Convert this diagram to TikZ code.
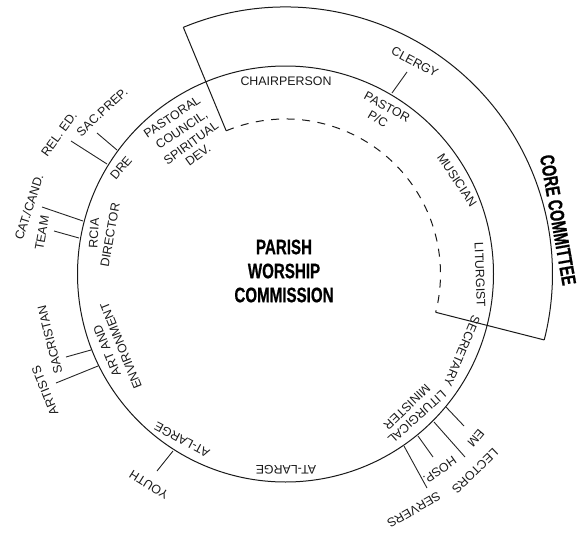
\documentclass[tikz,border=0pt]{standalone}
\usepackage{fontspec}
\setmainfont{Liberation Sans}
\newfontfamily\titlefont[FakeStretch=0.72,FakeBold=0.6]{Liberation Sans}
\begin{document}
\begin{tikzpicture}[x=1pt,y=1pt,yscale=-1,
  lab/.style={inner sep=0pt,font=\fontsize{12.4}{12.4}\selectfont,text=black!90},
  ttl/.style={inner sep=0pt,font=\titlefont\bfseries\fontsize{21}{21}\selectfont},
  core/.style={inner sep=0pt,font=\titlefont\bfseries\fontsize{20}{20}\selectfont},
  ln/.style={line width=1pt,black!90},
  tick/.style={line width=0.9pt,black!85}]
\useasboundingbox (0,0) rectangle (587,533);
\coordinate (c) at (285.5,274);
% main ring
\draw[ln] (c) circle[radius=208pt];
% core committee sector
\coordinate (oL) at ([shift={(-112.5:267pt)}]c);
\coordinate (oR) at ([shift={(14.3:267pt)}]c);
\coordinate (iL) at ([shift={(-112.5:155pt)}]c);
\coordinate (iR) at ([shift={(14.3:155pt)}]c);
\draw[ln] (oL) arc[start angle=-112.5,end angle=14.3,radius=267pt];
\draw[ln] (oL) -- (iL);
\draw[ln] (oR) -- (iR);
\draw[ln,dash pattern=on 8pt off 7.5pt] (iL) arc[start angle=-112.5,end angle=14.3,radius=155pt];
% ticks
\foreach \n/\ax/\ay/\bx/\by in {
  reled/71/141/107/164, sacprep/97/133/117/150, cat/42/207/83/221, team/54/231/79/238,
  sacr/66/357/91/350, artists/56/383/98/366, youth/157/471/173/451,
  servers/427/488/404/446, hosp/433/457/418/436, lectors/465/457/434/422, em/464/426/446/407,
  clergy/407/72/392/93}{
  \coordinate (\n A) at (\ax,\ay);
  \coordinate (\n B) at (\bx,\by);
  \draw[tick] (\n A) -- (\n B);
}
% labels
\node[lab] (chair) at (286,81) {CHAIRPERSON};
\node[lab,rotate=-28] (clergyL) at (415,62) {CLERGY};
\node[lab,rotate=-28.5] (pastor) at (387,107) {PASTOR};
\node[lab,rotate=-30] (pc) at (378,119) {P/C};
\node[lab,rotate=-56] (musician) at (457,180) {MUSICIAN};
\node[lab,rotate=-88] (liturgist) at (480,275) {LITURGIST};
\node[lab,rotate=-113] (secretary) at (462,351) {SECRETARY};
\node[lab,rotate=-138] (liturgical) at (417,417) {LITURGICAL};
\node[lab,rotate=-136] (minister) at (407,407) {MINISTER};
\node[lab,rotate=-130] (emL) at (476,438) {EM};
\node[lab,rotate=-136] (lectorsL) at (475,471) {LECTORS};
\node[lab,rotate=-145] (hospL) at (440,470) {HOSP.};
\node[lab,rotate=-150] (serversL) at (414,510) {SERVERS};
\node[lab,rotate=180] (atlb) at (286,470) {AT-LARGE};
\node[lab,rotate=152] (atll) at (182,440) {AT-LARGE};
\node[lab,rotate=148] (youthL) at (149,485) {YOUTH};
\node[lab,rotate=112] (artistsL) at (45,391) {ARTISTS};
\node[lab,rotate=104] (sacrL) at (50,340) {SACRISTAN};
\node[lab,rotate=112] (artand) at (107,351) {ART AND};
\node[lab,rotate=112] (envir) at (121,346) {ENVIRONMENT};
\node[lab,rotate=87] (rcia) at (94,233) {RCIA};
\node[lab,rotate=80] (director) at (110,235) {DIRECTOR};
\node[lab,rotate=72] (catL) at (29,207) {CAT./CAND.};
\node[lab,rotate=80] (teamL) at (42,233) {TEAM};
\node[lab,rotate=50] (dre) at (121,168) {DRE};
\node[lab,rotate=54] (reledL) at (59,134) {REL. ED.};
\node[lab,rotate=43] (sacprepL) at (102,112) {SAC.PREP.};
\node[lab,rotate=34] (pastoral) at (172,117) {PASTORAL};
\node[lab,rotate=34] (council) at (182,130) {COUNCIL,};
\node[lab,rotate=36] (spiritual) at (191,143) {SPIRITUAL};
\node[lab,rotate=36] (dev) at (198,155) {DEV.};
\node[ttl] (parish) at (284,247) {PARISH};
\node[ttl] (worship) at (284,271) {WORSHIP};
\node[ttl] (commission) at (284,295) {COMMISSION};
\node[core,rotate=-80] (coreT) at (558,220) {CORE COMMITTEE};
\end{tikzpicture}
\end{document}
